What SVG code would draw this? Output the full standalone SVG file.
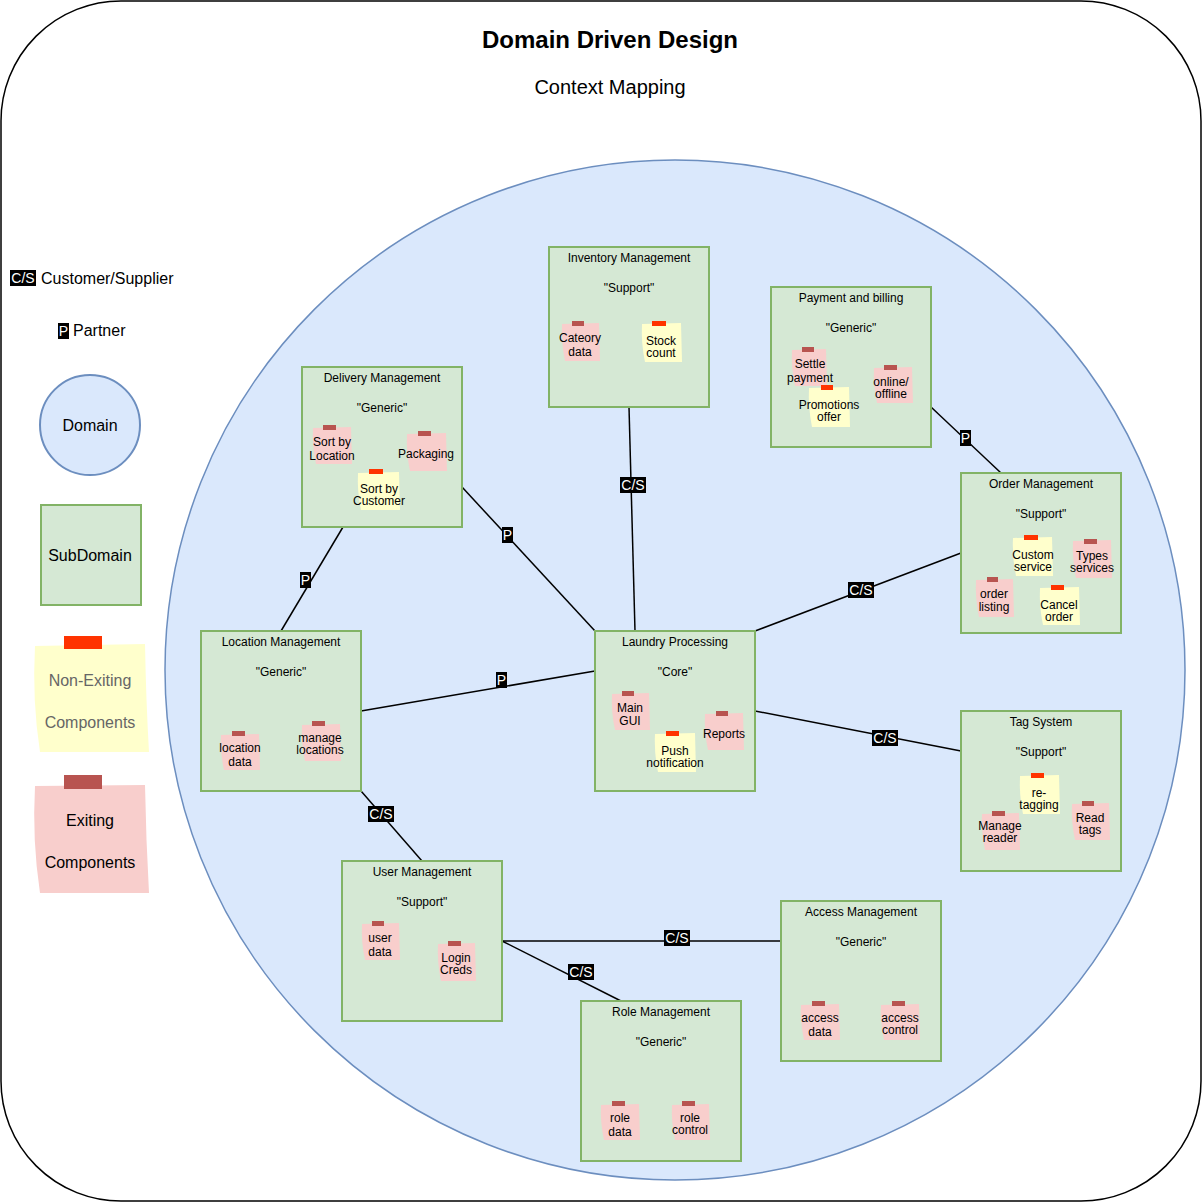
<svg xmlns="http://www.w3.org/2000/svg" width="1202" height="1202" viewBox="0 0 1202 1202">
<style>
text{font-family:"Liberation Sans",Arial,sans-serif;}
.sub{fill:#d5e8d4;stroke:#82b366;stroke-width:2;}
.t12{font-size:12px;text-anchor:middle;fill:#000;}
.t16{font-size:16px;text-anchor:middle;fill:#000;}
.pink{fill:#f8cecc;}
.yel{fill:#ffffcc;}
.tp{fill:#b85450;}
.ty{fill:#ff3300;}
.conn line{stroke:#000;stroke-width:1.5;}
.lb{fill:#000;}
.lt{font-size:14px;fill:#fff;text-anchor:middle;}
</style>
<rect x="1" y="1" width="1200" height="1200" rx="120" ry="120" fill="#fff" stroke="#000" stroke-width="1.5"/>
<text x="610" y="48" font-size="24" font-weight="bold" text-anchor="middle">Domain Driven Design</text>
<text x="610" y="94" font-size="20" text-anchor="middle">Context Mapping</text>

<g id="legend">
<rect x="10" y="270" width="26" height="16" class="lb"/>
<text x="23" y="283" class="lt">C/S</text>
<text x="41" y="284" font-size="16">Customer/Supplier</text>
<rect x="58" y="323" width="11" height="16" class="lb"/>
<text x="63.5" y="336" class="lt">P</text>
<text x="73" y="336" font-size="16">Partner</text>
<circle cx="90" cy="425" r="50" fill="#dae8fc" stroke="#6c8ebf" stroke-width="2"/>
<text x="90" y="431" class="t16">Domain</text>
<rect x="41" y="505" width="100" height="100" class="sub"/>
<text x="90" y="561" class="t16">SubDomain</text>
<path d="M35 646 L145 644 Q146 700 149 752 L40 752 Q32 700 35 646 Z" class="yel"/>
<rect x="64" y="636" width="38" height="13" class="ty"/>
<text x="90" y="686" class="t16" style="fill:#666666">Non-Exiting</text>
<text x="90" y="728" class="t16" style="fill:#666666">Components</text>
<path d="M35 786 L145 785 Q146 840 149 893 L40 893 Q32 840 35 786 Z" class="pink"/>
<rect x="64" y="775" width="38" height="14" class="tp"/>
<text x="90" y="826" class="t16">Exiting</text>
<text x="90" y="868" class="t16">Components</text>
</g>

<circle id="domain" cx="675" cy="670" r="510" fill="#dae8fc" stroke="#6c8ebf" stroke-width="1.5"/>

<g class="conn" id="connectors">
<line x1="629" y1="407" x2="635" y2="631"/>
<line x1="931" y1="407" x2="1001" y2="473"/>
<line x1="462" y1="487" x2="595" y2="631"/>
<line x1="343" y1="527" x2="281" y2="631"/>
<line x1="361" y1="711" x2="595" y2="671"/>
<line x1="755" y1="631" x2="961" y2="553"/>
<line x1="755" y1="711" x2="961" y2="751"/>
<line x1="361" y1="791" x2="422" y2="861"/>
<line x1="502" y1="941" x2="781" y2="941"/>
<line x1="502" y1="941" x2="621" y2="1001"/>
<rect x="620" y="477" width="26" height="16" class="lb"/><text x="633" y="490" class="lt">C/S</text>
<rect x="960" y="430" width="11" height="16" class="lb"/><text x="965.5" y="443" class="lt">P</text>
<rect x="502" y="527" width="11" height="16" class="lb"/><text x="507.5" y="540" class="lt">P</text>
<rect x="300" y="572" width="11" height="16" class="lb"/><text x="305.5" y="585" class="lt">P</text>
<rect x="496" y="672" width="11" height="16" class="lb"/><text x="501.5" y="685" class="lt">P</text>
<rect x="848" y="582" width="26" height="16" class="lb"/><text x="861" y="595" class="lt">C/S</text>
<rect x="872" y="730" width="26" height="16" class="lb"/><text x="885" y="743" class="lt">C/S</text>
<rect x="368" y="806" width="26" height="16" class="lb"/><text x="381" y="819" class="lt">C/S</text>
<rect x="664" y="930" width="26" height="16" class="lb"/><text x="677" y="943" class="lt">C/S</text>
<rect x="568" y="964" width="26" height="16" class="lb"/><text x="581" y="977" class="lt">C/S</text>
</g>

<g id="inventory">
<rect x="549" y="247" width="160" height="160" class="sub"/>
<text x="629" y="262" class="t12">Inventory Management</text>
<text x="629" y="292" class="t12">"Support"</text>
<path d="M562 324 L599 323 L600 361 L565 361 Q561 342 562 324 Z" class="pink"/><rect x="572" y="321" width="12" height="5" class="tp"/>
<text x="580" y="342" class="t12">Cateory</text><text x="580" y="356" class="t12">data</text>
<path d="M642 324 L681 323 L682 362 L645 362 Q641 343 642 324 Z" class="yel"/><rect x="652" y="321" width="14" height="5" class="ty"/>
<text x="661" y="345" class="t12">Stock</text><text x="661" y="357" class="t12">count</text>
</g>

<g id="payment">
<rect x="771" y="287" width="160" height="160" class="sub"/>
<text x="851" y="302" class="t12">Payment and billing</text>
<text x="851" y="332" class="t12">"Generic"</text>
<path d="M792 350 L826 349 L827 386 L795 386 Q791 368 792 350 Z" class="pink"/><rect x="802" y="347" width="12" height="5" class="tp"/>
<text x="810" y="368" class="t12">Settle</text><text x="810" y="382" class="t12">payment</text>
<path d="M809 388 L849 387 L850 427 L812 427 Q808 407 809 388 Z" class="yel"/><rect x="821" y="385" width="12" height="5" class="ty"/>
<text x="829" y="409" class="t12">Promotions</text><text x="829" y="421" class="t12">offer</text>
<path d="M874 368 L912 367 L913 403 L877 403 Q873 385 874 368 Z" class="pink"/><rect x="884" y="365" width="13" height="5" class="tp"/>
<text x="891" y="386" class="t12">online/</text><text x="891" y="398" class="t12">offline</text>
</g>

<g id="delivery">
<rect x="302" y="367" width="160" height="160" class="sub"/>
<text x="382" y="382" class="t12">Delivery Management</text>
<text x="382" y="412" class="t12">"Generic"</text>
<path d="M313 428 L351 427 L352 464 L316 464 Q312 446 313 428 Z" class="pink"/><rect x="323" y="425" width="13" height="5" class="tp"/>
<text x="332" y="446" class="t12">Sort by</text><text x="332" y="460" class="t12">Location</text>
<path d="M407 434 L446 433 L447 471 L410 471 Q406 452 407 434 Z" class="pink"/><rect x="418" y="431" width="13" height="5" class="tp"/>
<text x="426" y="458" class="t12">Packaging</text>
<path d="M358 473 L399 472 L400 510 L361 510 Q357 491 358 473 Z" class="yel"/><rect x="369" y="469" width="14" height="5" class="ty"/>
<text x="379" y="493" class="t12">Sort by</text><text x="379" y="505" class="t12">Customer</text>
</g>

<g id="order">
<rect x="961" y="473" width="160" height="160" class="sub"/>
<text x="1041" y="488" class="t12">Order Management</text>
<text x="1041" y="518" class="t12">"Support"</text>
<path d="M1013 538 L1052 537 L1053 576 L1016 576 Q1012 557 1013 538 Z" class="yel"/><rect x="1024" y="535" width="14" height="5" class="ty"/>
<text x="1033" y="559" class="t12">Custom</text><text x="1033" y="571" class="t12">service</text>
<path d="M1073 541 L1111 540 L1112 578 L1076 578 Q1072 559 1073 541 Z" class="pink"/><rect x="1084" y="539" width="13" height="5" class="tp"/>
<text x="1092" y="560" class="t12">Types</text><text x="1092" y="572" class="t12">services</text>
<path d="M976 580 L1013 579 L1014 617 L979 617 Q975 598 976 580 Z" class="pink"/><rect x="987" y="577" width="11" height="5" class="tp"/>
<text x="994" y="598" class="t12">order</text><text x="994" y="611" class="t12">listing</text>
<path d="M1040 588 L1079 587 L1080 625 L1043 625 Q1039 606 1040 588 Z" class="yel"/><rect x="1051" y="585" width="13" height="5" class="ty"/>
<text x="1059" y="609" class="t12">Cancel</text><text x="1059" y="621" class="t12">order</text>
</g>

<g id="location">
<rect x="201" y="631" width="160" height="160" class="sub"/>
<text x="281" y="646" class="t12">Location Management</text>
<text x="281" y="676" class="t12">"Generic"</text>
<path d="M221 735 L259 734 L260 770 L224 770 Q220 752 221 735 Z" class="pink"/><rect x="232" y="731" width="13" height="5" class="tp"/>
<text x="240" y="752" class="t12">location</text><text x="240" y="766" class="t12">data</text>
<path d="M302 725 L340 724 L341 761 L305 761 Q301 743 302 725 Z" class="pink"/><rect x="312" y="721" width="13" height="5" class="tp"/>
<text x="320" y="742" class="t12">manage</text><text x="320" y="754" class="t12">locations</text>
</g>

<g id="laundry">
<rect x="595" y="631" width="160" height="160" class="sub"/>
<text x="675" y="646" class="t12">Laundry Processing</text>
<text x="675" y="676" class="t12">"Core"</text>
<path d="M612 694 L649 693 L650 730 L615 730 Q611 712 612 694 Z" class="pink"/><rect x="622" y="691" width="12" height="5" class="tp"/>
<text x="630" y="712" class="t12">Main</text><text x="630" y="725" class="t12">GUI</text>
<path d="M705 714 L743 713 L744 750 L708 750 Q704 732 705 714 Z" class="pink"/><rect x="716" y="711" width="12" height="5" class="tp"/>
<text x="724" y="738" class="t12">Reports</text>
<path d="M655 734 L695 733 L696 772 L658 772 Q654 753 655 734 Z" class="yel"/><rect x="666" y="731" width="13" height="5" class="ty"/>
<text x="675" y="755" class="t12">Push</text><text x="675" y="767" class="t12">notification</text>
</g>

<g id="tag">
<rect x="961" y="711" width="160" height="160" class="sub"/>
<text x="1041" y="726" class="t12">Tag System</text>
<text x="1041" y="756" class="t12">"Support"</text>
<path d="M1020 776 L1059 775 L1060 814 L1023 814 Q1019 795 1020 776 Z" class="yel"/><rect x="1031" y="773" width="13" height="5" class="ty"/>
<text x="1039" y="797" class="t12">re-</text><text x="1039" y="809" class="t12">tagging</text>
<path d="M982 814 L1019 813 L1020 850 L985 850 Q981 832 982 814 Z" class="pink"/><rect x="992" y="811" width="13" height="5" class="tp"/>
<text x="1000" y="830" class="t12">Manage</text><text x="1000" y="842" class="t12">reader</text>
<path d="M1072 804 L1109 803 L1110 840 L1075 840 Q1071 822 1072 804 Z" class="pink"/><rect x="1082" y="801" width="12" height="5" class="tp"/>
<text x="1090" y="822" class="t12">Read</text><text x="1090" y="834" class="t12">tags</text>
</g>

<g id="user">
<rect x="342" y="861" width="160" height="160" class="sub"/>
<text x="422" y="876" class="t12">User Management</text>
<text x="422" y="906" class="t12">"Support"</text>
<path d="M362 924 L399 923 L400 960 L365 960 Q361 942 362 924 Z" class="pink"/><rect x="372" y="921" width="12" height="5" class="tp"/>
<text x="380" y="942" class="t12">user</text><text x="380" y="956" class="t12">data</text>
<path d="M438 944 L475 943 L476 981 L441 981 Q437 962 438 944 Z" class="pink"/><rect x="448" y="941" width="13" height="5" class="tp"/>
<text x="456" y="962" class="t12">Login</text><text x="456" y="974" class="t12">Creds</text>
</g>

<g id="access">
<rect x="781" y="901" width="160" height="160" class="sub"/>
<text x="861" y="916" class="t12">Access Management</text>
<text x="861" y="946" class="t12">"Generic"</text>
<path d="M801 1005 L839 1004 L840 1040 L804 1040 Q800 1022 801 1005 Z" class="pink"/><rect x="812" y="1001" width="13" height="5" class="tp"/>
<text x="820" y="1022" class="t12">access</text><text x="820" y="1036" class="t12">data</text>
<path d="M881 1005 L919 1004 L920 1040 L884 1040 Q880 1022 881 1005 Z" class="pink"/><rect x="892" y="1001" width="13" height="5" class="tp"/>
<text x="900" y="1022" class="t12">access</text><text x="900" y="1034" class="t12">control</text>
</g>

<g id="role">
<rect x="581" y="1001" width="160" height="160" class="sub"/>
<text x="661" y="1016" class="t12">Role Management</text>
<text x="661" y="1046" class="t12">"Generic"</text>
<path d="M601 1105 L639 1104 L640 1140 L604 1140 Q600 1122 601 1105 Z" class="pink"/><rect x="612" y="1101" width="13" height="5" class="tp"/>
<text x="620" y="1122" class="t12">role</text><text x="620" y="1136" class="t12">data</text>
<path d="M672 1105 L709 1104 L710 1140 L675 1140 Q671 1122 672 1105 Z" class="pink"/><rect x="682" y="1101" width="13" height="5" class="tp"/>
<text x="690" y="1122" class="t12">role</text><text x="690" y="1134" class="t12">control</text>
</g>
</svg>
